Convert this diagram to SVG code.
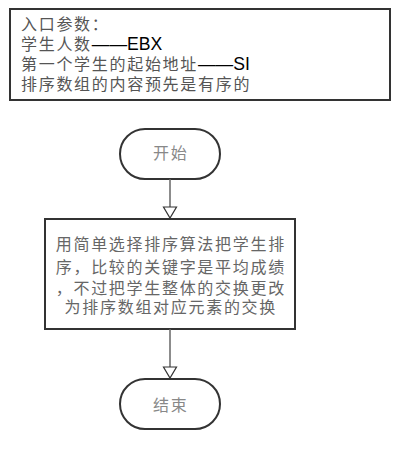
<svg xmlns="http://www.w3.org/2000/svg" width="410" height="450" viewBox="0 0 410 450">
<defs>
<style>
.t{font-family:"Liberation Sans","Noto Sans CJK SC",sans-serif;font-size:16px;letter-spacing:1.7px;}
.lat{letter-spacing:0;font-size:17.6px;}
.box{fill:#fff;stroke:#333;stroke-width:2;}
.conn{stroke:#666;stroke-width:1.5;fill:none;}
.head{fill:#fff;stroke:#333;stroke-width:1.2;}
</style>
</defs>
<rect width="410" height="450" fill="#fff"/>
<g id="params">
<rect class="box" x="10" y="9" width="380" height="91"/>
<text class="t" x="21" y="30" fill="#555">入口参数：</text>
<text class="t" x="21" y="50" fill="#555">学生人数<tspan class="lat" fill="#000">——EBX</tspan></text>
<text class="t" x="21" y="70" fill="#555">第一个学生的起始地址<tspan class="lat" fill="#000">——SI</tspan></text>
<text class="t" x="21" y="90" fill="#555">排序数组的内容预先是有序的</text>
</g>
<g id="start">
<rect class="box" x="120" y="129" width="100" height="50" rx="25"/>
<text class="t" x="170.8" y="159" text-anchor="middle" fill="#888">开始</text>
</g>
<g id="process">
<rect class="box" x="45" y="219" width="250" height="110"/>
<text class="t" x="170.8" y="250" text-anchor="middle" fill="#666">用简单选择排序算法把学生排</text>
<text class="t" x="170.8" y="273" text-anchor="middle" fill="#666">序，比较的关键字是平均成绩</text>
<text class="t" x="170.8" y="294" text-anchor="middle" fill="#666">，不过把学生整体的交换更改</text>
<text class="t" x="170.8" y="313" text-anchor="middle" fill="#666">为排序数组对应元素的交换</text>
</g>
<g id="end">
<rect class="box" x="120" y="379" width="100" height="50" rx="25"/>
<text class="t" x="170.8" y="411" text-anchor="middle" fill="#888">结束</text>
</g>
<g id="connectors">
<line class="conn" x1="170" y1="179" x2="170" y2="207"/>
<polygon class="head" points="163.5,207 176.5,207 170,218"/>
<line class="conn" x1="170" y1="329" x2="170" y2="367"/>
<polygon class="head" points="163.5,367 176.5,367 170,378"/>
</g>
</svg>
